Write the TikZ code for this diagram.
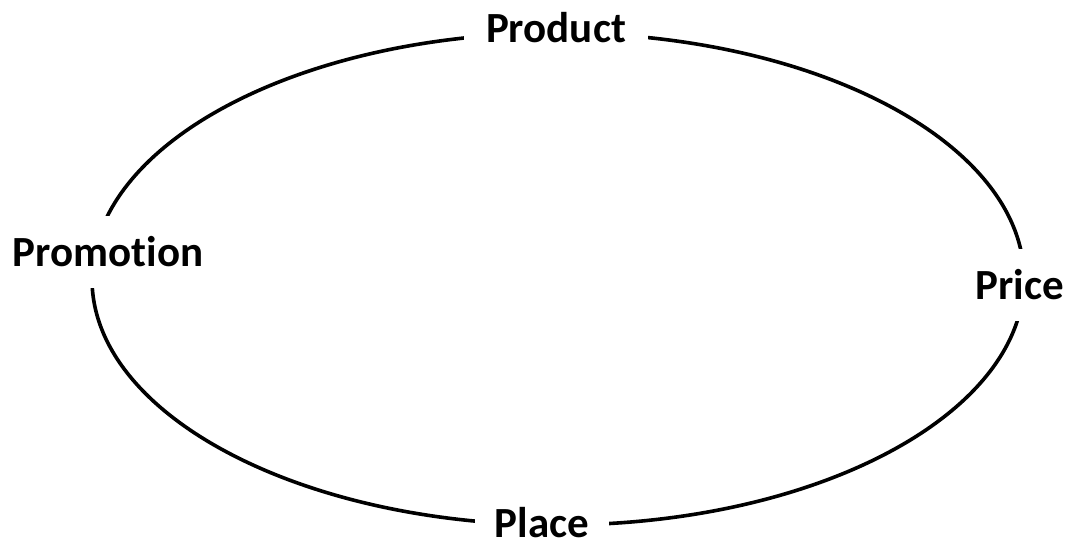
\documentclass[tikz,border=0pt]{standalone}
\usepackage{fontspec}
\setmainfont{Carlito}[Ligatures=NoCommon]
\usetikzlibrary{positioning}
\tikzset{
  ring/.style={line width=3.6pt,draw=black},
  pbox/.style={fill=white,font=\fontsize{43}{50}\selectfont\bfseries,inner xsep=22pt,inner ysep=4pt,anchor=base},
  sidebox/.style={pbox,inner xsep=2pt,inner ysep=21pt}
}
\begin{document}
\begin{tikzpicture}[x=1pt,y=1pt]
\useasboundingbox (0,0) rectangle (1067,543);
\coordinate (c) at (558,264);
\draw[ring] (c) ellipse [x radius=466, y radius=246];
\node[pbox] (prod) at (556,500) {Product};
\node[sidebox] (promo) at (108,276) {Promotion};
\node[sidebox] (price) at (1020,243) {Price};
\node[pbox,inner xsep=20pt,inner ysep=1pt] (place) at (542,6) {Place};
\end{tikzpicture}
\end{document}
